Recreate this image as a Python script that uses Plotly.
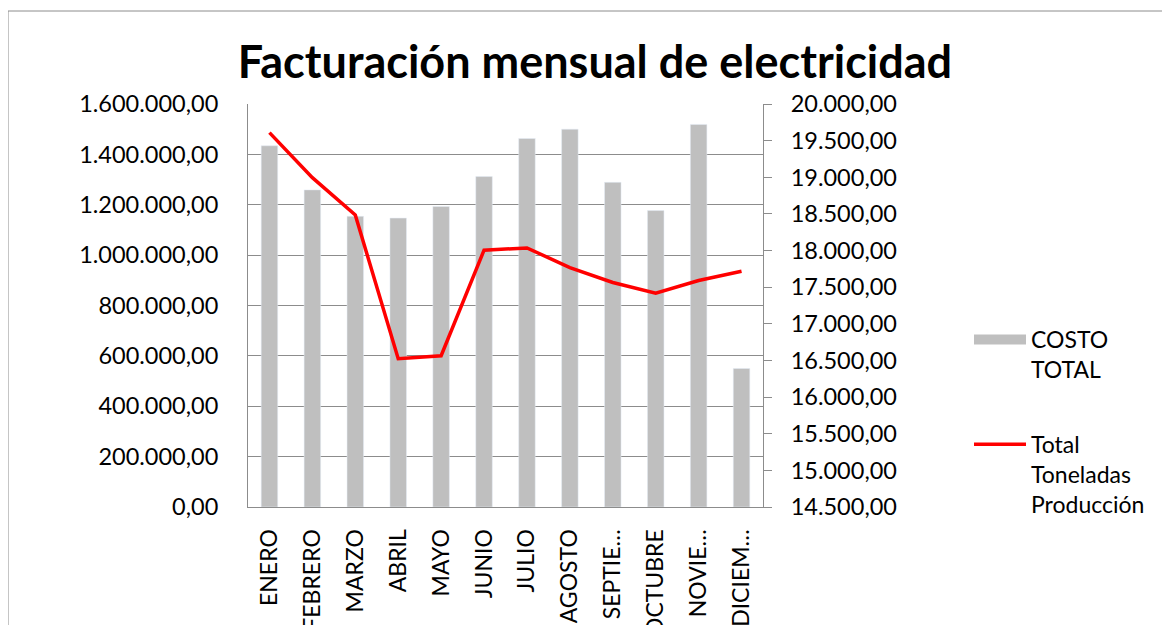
import plotly.graph_objects as go

months = ["ENERO", "FEBRERO", "MARZO", "ABRIL", "MAYO", "JUNIO", "JULIO",
          "AGOSTO", "SEPTIE…", "OCTUBRE", "NOVIE…", "DICIEM…"]
costo_total = [1434000, 1259000, 1154000, 1147000, 1193000, 1312000, 1463000,
               1500000, 1289000, 1177000, 1519000, 550000]
toneladas = [19609, 18995, 18486, 16523, 16564, 18005, 18036,
             17768, 17564, 17418, 17591, 17718]

title_text = "Facturación mensual de electricidad"
name_bar = "COSTO<br>TOTAL"
name_line = "Total<br>Toneladas<br>Producción"

FONT = "Lato"
GRID = "#8c8c8c"
BAR = "#bfbfbf"
RED = "#ff0000"

fig = go.Figure()
fig.add_trace(go.Bar(x=months, y=costo_total, marker_color=BAR, name=name_bar,
                     showlegend=False, legendgroup="a", yaxis="y"))
# legend proxy for the bar series (wide swatch like the original)
fig.add_trace(go.Scatter(x=[None], y=[None], mode="lines", name=name_bar,
                         line=dict(color=BAR, width=14), legendgroup="a",
                         showlegend=True, hoverinfo="skip"))
fig.add_trace(go.Scatter(x=months, y=toneladas, mode="lines", name=name_line,
                         line=dict(color=RED, width=3.5), legendgroup="b",
                         yaxis="y2"))

OFF = 8  # page body margin
W, H = 1170, 625
L, R, T, B = 248 - OFF, W - (763 - OFF), 104 - OFF, H - (507 - OFF)
pw, ph = W - L - R, H - T - B

def px(x):
    return (x - OFF - L) / pw

def py(y):
    return (H - B - (y - OFF)) / ph

fig.update_layout(
    width=W, height=H,
    margin=dict(l=L, r=R, t=T, b=B, autoexpand=False),
    paper_bgcolor="white", plot_bgcolor="white",
    separators=",.",
    font=dict(family=FONT, color="black", size=23),
    title=dict(text="<b>" + title_text + "</b>", x=(595 - OFF) / W, xanchor="center",
               y=1 - (62 - OFF) / H, yanchor="middle",
               font=dict(family=FONT, size=45, color="black")),
    bargap=0.615,
    xaxis=dict(showline=True, linecolor=GRID, linewidth=1, ticks="",
               tickangle=-90, tickfont=dict(size=23), ticklabelstandoff=12,
               showgrid=False, automargin=False),
    yaxis=dict(range=[0, 1600000], dtick=200000, tickformat=",.2f",
               showline=True, linecolor=GRID, linewidth=1,
               showgrid=True, gridcolor=GRID, gridwidth=1,
               ticks="", ticklabelstandoff=24, tickfont=dict(size=23.5),
               zeroline=False, automargin=False),
    yaxis2=dict(range=[14500, 20000], dtick=500, tickformat=",.2f",
                overlaying="y", side="right",
                showline=True, linecolor=GRID, linewidth=1,
                ticks="outside", ticklen=8, tickcolor=GRID,
                showgrid=False, zeroline=False, ticklabelstandoff=14,
                tickfont=dict(size=23.5), automargin=False),
    legend=dict(x=px(969), y=py(318), xanchor="left", yanchor="top",
                font=dict(family=FONT, size=23), itemwidth=52,
                traceorder="grouped", tracegroupgap=42, valign="top",
                bgcolor="rgba(0,0,0,0)"),
    shapes=[dict(type="rect", xref="paper", yref="paper",
                 x0=px(8), x1=px(1180), y0=py(11), y1=py(640),
                 line=dict(color=GRID, width=1), fillcolor="rgba(0,0,0,0)",
                 layer="below")],
)

fig.write_html("out.html")
